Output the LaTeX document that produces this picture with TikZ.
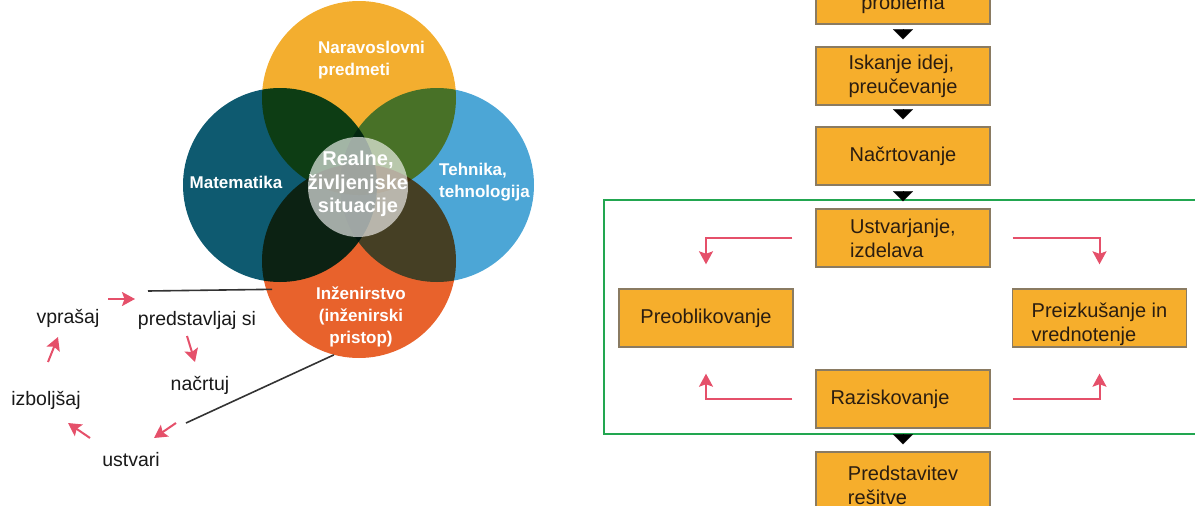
\documentclass[tikz,border=0pt]{standalone}
\usepackage{fontspec}
\setmainfont{Liberation Sans}
\usetikzlibrary{arrows.meta}
\definecolor{cNat}{HTML}{F3AE2F}
\definecolor{cMat}{HTML}{0E5A70}
\definecolor{cTeh}{HTML}{4CA6D6}
\definecolor{cEng}{HTML}{E8622C}
\definecolor{boxfill}{HTML}{F6AE2C}
\definecolor{boxline}{HTML}{8A7B62}
\definecolor{boxtext}{HTML}{2B1D10}
\definecolor{arr}{HTML}{E5506A}
\definecolor{grn}{HTML}{22A650}
\definecolor{linec}{HTML}{333333}
\begin{document}
\begin{tikzpicture}[x=1pt,y=-1pt,
  venn/.style={circle, inner sep=0pt, minimum size=194pt, blend mode=multiply},
  vlab/.style={text=white, font=\bfseries\fontsize{17}{22}\selectfont, align=left, inner sep=0pt},
  cyc/.style={text=black!90, font=\fontsize{19.5}{23}\selectfont, inner sep=0pt},
  redarr/.style={draw=arr, line width=2pt, -{Stealth[width=14pt,length=13pt,inset=2.5pt]}},
  conn/.style={draw=linec, line width=1.6pt},
  fbox/.style={draw=boxline, line width=1.4pt, fill=boxfill, minimum width=174pt, minimum height=58pt, inner sep=0pt, align=left, text=boxtext, font=\fontsize{20}{24}\selectfont},
  tri/.style={draw=black, line width=0.2pt, -{Triangle[width=20pt,length=10pt]}, shorten <=6pt, shorten >=7pt},
  grnbox/.style={draw=grn, line width=2.5pt}
]
\useasboundingbox (0,0) rectangle (1195,506);
\clip (0,0) rectangle (1195,506);

% Venn diagram
\node[venn, fill=cNat] (nat) at (359,98) {};
\node[venn, fill=cMat] (mat) at (280,185) {};
\node[venn, fill=cTeh] (teh) at (437,185) {};
\node[venn, fill=cEng] (eng) at (359,261) {};
\node[circle, inner sep=0pt, minimum size=100pt, fill=white, fill opacity=0.62] (real) at (358,187) {};

\node[vlab, anchor=west] (natt) at (318,60) {Naravoslovni\\predmeti};
\node[vlab] (matt) at (236,182) {Matematika};
\node[vlab, anchor=west] (teht) at (439,182.5) {Tehnika,\\tehnologija};
\node[vlab, align=center] (engt) at (361,316.5) {Inženirstvo\\(inženirski\\pristop)};
\node[vlab, align=center, font=\bfseries\fontsize{20}{23.5}\selectfont] (realt) at (358,184) {Realne,\\življenjske\\situacije};

% cycle
\node[cyc] (vpr) at (68,318) {vprašaj};
\node[cyc] (pred) at (197,320) {predstavljaj si};
\node[cyc] (nac) at (200,385) {načrtuj};
\node[cyc] (izb) at (46,400) {izboljšaj};
\node[cyc] (ust) at (131,460) {ustvari};

\coordinate (a1s) at (108,299); \coordinate (a1e) at (135,299);
\coordinate (a2s) at (187,336); \coordinate (a2e) at (195,362);
\coordinate (a3s) at (176,423); \coordinate (a3e) at (154,438);
\coordinate (a4s) at (90,438);  \coordinate (a4e) at (68,423);
\coordinate (a5s) at (48,362);  \coordinate (a5e) at (58,337);
\draw[redarr] (a1s) -- (a1e);
\draw[redarr] (a2s) -- (a2e);
\draw[redarr] (a3s) -- (a3e);
\draw[redarr] (a4s) -- (a4e);
\draw[redarr] (a5s) -- (a5e);

\coordinate (c1) at (148,291);
\coordinate (c2) at (186,423);
\draw[conn, shorten >=-6pt] (c1) -- (eng.197);
\draw[conn] (c2) -- (eng.255);

% flowchart
\draw[grnbox] (604,200) rectangle (1215,434);

\node[fbox] (prob) at (903,-5) {\raisebox{-14.5pt}[0pt][0pt]{problema}};
\node[fbox] (isk) at (903,76) {Iskanje idej,\\preučevanje};
\node[fbox] (nacr) at (903,156) {Načrtovanje};
\node[fbox] (ustv) at (903,238) {Ustvarjanje,\\izdelava};
\node[fbox] (preo) at (706,318) {Preoblikovanje};
\node[fbox] (preiz) at (1099.5,318) {\mbox{}\\[3pt]Preizkušanje in\\vrednotenje};
\node[fbox] (raz) at (903,399) {Raziskovanje\hspace*{26pt}};
\node[fbox] (preds) at (903,481) {\mbox{}\\[-1pt]Predstavitev\hspace*{18pt}\\rešitve};

\draw[tri] (prob.south) -- (isk.north);
\draw[tri] (isk.south) -- (nacr.north);
\draw[tri] (nacr.south) -- (ustv.north);
\draw[tri] (raz.south) -- (preds.north);

\draw[redarr, shorten <=23pt, shorten >=24pt] (ustv.west) -| (preo.north);
\draw[redarr, shorten <=23pt, shorten >=26pt] (raz.west) -| (preo.south);
\draw[redarr, shorten <=22pt, shorten >=24pt] (ustv.east) -| (preiz.north);
\draw[redarr, shorten <=22pt, shorten >=26pt] (raz.east) -| (preiz.south);
\end{tikzpicture}
\end{document}
